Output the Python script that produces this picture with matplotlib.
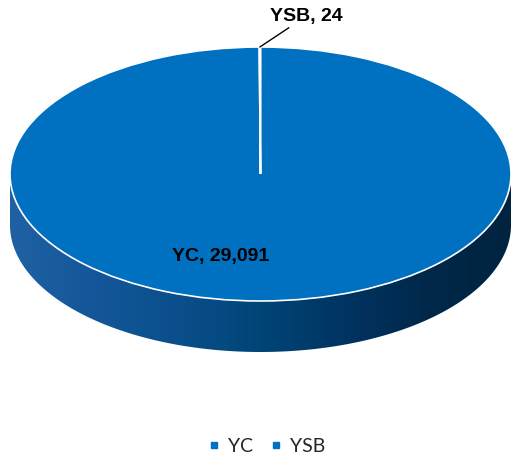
import numpy as np
import matplotlib.pyplot as plt
from matplotlib.patches import Polygon
from matplotlib.colors import LinearSegmentedColormap
from matplotlib.lines import Line2D

# data
labels = ['YC', 'YSB']
values = [29091, 24]

top_color = '#0070C0'
side_colors = ['#1f61a3', '#13579a', '#0a4f8b', '#004577', '#003462', '#00284a', '#00243f']

plt.rcParams['font.family'] = ['Lato', 'DejaVu Sans']
label_font = ['Liberation Sans', 'DejaVu Sans']

# canvas in pixels, ellipse geometry of the "3d" pie
W, H = 516, 461
cx, cy, rx, ry, depth = 260.5, 174, 250.5, 127, 51

fig = plt.figure(figsize=(W / 100, H / 100), dpi=100)
ax = fig.add_axes([0, 0, 1, 1])

# top face
wedges, _ = ax.pie(values, startangle=90, counterclock=False,
                   colors=[top_color] * len(values),
                   wedgeprops=dict(edgecolor='white', linewidth=1.2, zorder=3))
ax.set_aspect('auto')
ax.set_xlim((0 - cx) / rx, (W - cx) / rx)
ax.set_ylim((cy - H) / ry, cy / ry)
ax.axis('off')

# side band with a horizontal gradient
d = depth / ry
t = np.linspace(np.pi, 2 * np.pi, 200)
upper = np.column_stack([np.cos(t), np.sin(t)])
lower = np.column_stack([np.cos(t[::-1]), np.sin(t[::-1]) - d])
side = Polygon(np.vstack([upper, lower]), closed=True, fill=False, lw=0)
ax.add_patch(side)
cmap = LinearSegmentedColormap.from_list('side', side_colors)
grad = np.linspace(0, 1, 256).reshape(1, -1)
im = ax.imshow(grad, extent=(-1, 1, -1 - d, 0), aspect='auto', cmap=cmap,
               zorder=1, interpolation='bilinear')
im.set_clip_path(side)

# data labels
w_small = wedges[1]
ang = np.deg2rad((w_small.theta1 + w_small.theta2) / 2)
ax.annotate(f'{labels[1]}, {values[1]:,}', xy=(np.cos(ang), np.sin(ang)),
            xytext=(7, 22), textcoords='offset points', ha='left', va='center',
            fontsize=14, fontweight='bold', color='black', family=label_font,
            arrowprops=dict(arrowstyle='-', color='black', lw=1,
                            shrinkA=0, shrinkB=0))

w_big = wedges[0]
ang = np.deg2rad((w_big.theta1 + w_big.theta2) / 2)
ax.annotate(f'{labels[0]}, {values[0]:,}', xy=(0.65 * np.cos(ang), 0.65 * np.sin(ang)),
            xytext=(-29, 0), textcoords='offset points', ha='center', va='center',
            fontsize=14, fontweight='bold', color='black', family=label_font,
            zorder=5)

# legend
handles = [Line2D([], [], marker='s', color=top_color, linestyle='none',
                  markersize=5) for _ in labels]
fig.legend(handles, labels, loc='center', bbox_to_anchor=(266 / W, 1 - 446 / H),
           ncol=2, frameon=False, fontsize=14, handlelength=0.7,
           handletextpad=0.35, columnspacing=0.86, labelcolor='#262626')

fig.savefig('out.png', dpi=100)
